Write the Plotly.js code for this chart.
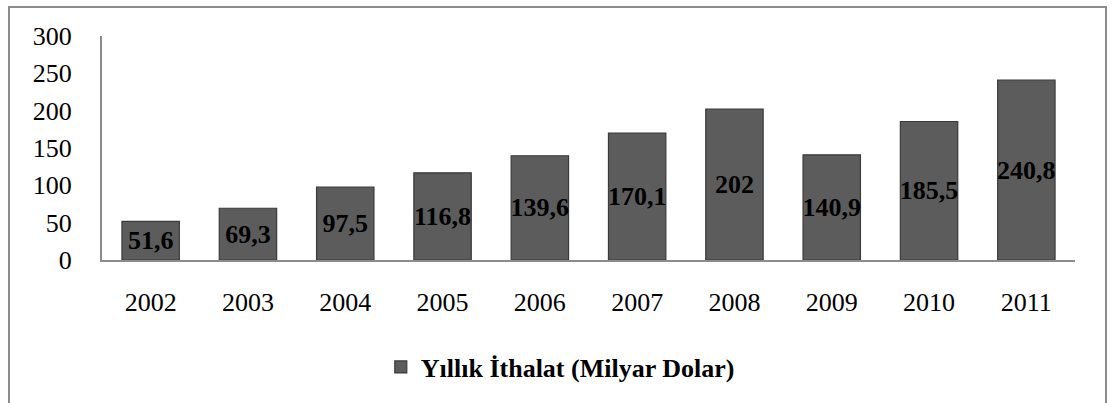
<!DOCTYPE html>
<html>
<head>
<meta charset="utf-8">
<script src="https://cdn.plot.ly/plotly-3.0.1.min.js"></script>
<style>
html,body{margin:0;padding:0;background:#fff;}
#wrap{position:relative;width:1112px;height:403px;overflow:hidden;}
#frame{position:absolute;left:8px;top:6px;width:1099px;height:420px;border:2px solid #8c8c8c;box-sizing:border-box;pointer-events:none;z-index:5;}
#chart{position:absolute;left:0;top:0;width:1112px;height:403px;}
</style>
</head>
<body>
<div id="wrap">
<div id="chart"></div>
<div id="frame"></div>
</div>
<script>
const years = ['2002','2003','2004','2005','2006','2007','2008','2009','2010','2011'];
const imports = [51.6, 69.3, 97.5, 116.8, 139.6, 170.1, 202, 140.9, 185.5, 240.8];
const seriesName = 'Yıllık İthalat (Milyar Dolar)';
const yTicks = [0, 50, 100, 150, 200, 250, 300];

const labels = imports.map(v => String(v).replace('.', ','));

const trace = {
  type: 'bar',
  x: years,
  y: imports,
  name: seriesName,
  text: labels,
  textposition: 'inside',
  insidetextanchor: 'middle',
  textangle: 0,
  constraintext: 'none',
  textfont: {family: 'Liberation Serif', size: 26, color: '#000', weight: 'bold'},
  insidetextfont: {family: 'Liberation Serif', size: 26, color: '#000', weight: 'bold'},
  marker: {color: '#5c5c5c', line: {color: '#3a3a3a', width: 1.2}},
  width: 0.59,
  showlegend: true,
  hoverinfo: 'none'
};

const layout = {
  width: 1112,
  height: 403,
  margin: {l: 102, r: 37, t: 36, b: 141},
  paper_bgcolor: '#fff',
  plot_bgcolor: '#fff',
  font: {family: 'Liberation Serif', color: '#000'},
  showlegend: true,
  legend: {
    orientation: 'h', x: 0.471, xanchor: 'center', y: -0.478, yanchor: 'middle',
    font: {family: 'Liberation Serif', size: 26, color: '#000', weight: 'bold'},
    itemwidth: 30
  },
  xaxis: {
    type: 'category',
    showgrid: false,
    showline: true, linecolor: '#8c8c8c', linewidth: 2,
    ticks: '', ticklen: 0,
    tickfont: {family: 'Liberation Serif', size: 26, color: '#000'},
    ticklabelstandoff: 18
  },
  yaxis: {
    range: [0, 300],
    tickvals: yTicks,
    ticktext: yTicks.map(String),
    showgrid: false, zeroline: false,
    showline: true, linecolor: '#8c8c8c', linewidth: 2,
    ticks: '',
    tickfont: {family: 'Liberation Serif', size: 26, color: '#000'},
    ticklabelstandoff: 23
  },
  bargap: 0.41
};

Plotly.newPlot('chart', [trace], layout, {displayModeBar: false, staticPlot: true});
</script>
</body>
</html>
